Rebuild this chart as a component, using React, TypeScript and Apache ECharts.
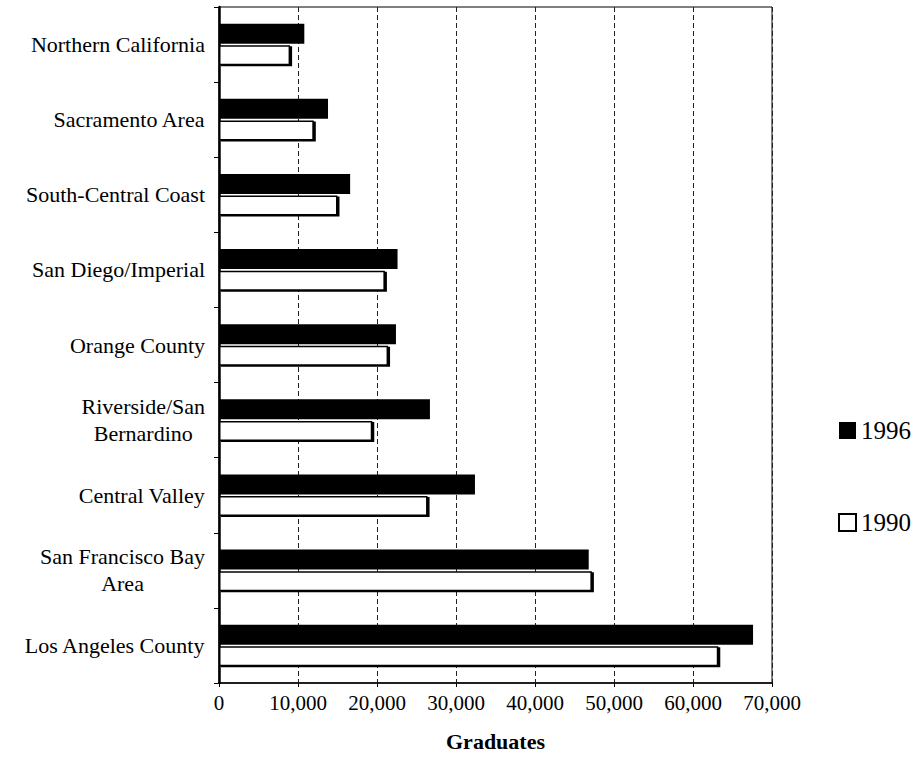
import React, { useEffect, useRef } from "react";
import * as echarts from "echarts";

const categories = [
  "Northern California",
  "Sacramento Area",
  "South-Central Coast",
  "San Diego/Imperial",
  "Orange County",
  "Riverside/San Bernardino",
  "Central Valley",
  "San Francisco Bay Area",
  "Los Angeles County",
];
const categoryLabels = [
  "Northern California",
  "Sacramento Area",
  "South-Central Coast",
  "San Diego/Imperial",
  "Orange County",
  "Riverside/San\nBernardino",
  "Central Valley",
  "San Francisco Bay\nArea",
  "Los Angeles County",
];
const grads1996 = [10800, 13800, 16600, 22600, 22400, 26700, 32400, 46800, 67600];
const grads1990 = [9000, 12000, 15000, 21000, 21400, 19400, 26400, 47200, 63200];
const xTicks = { min: 0, max: 70000, interval: 10000 };
const axisTitle = "Graduates";

const FONT = "'Liberation Serif', 'Times New Roman', serif";

export default function App() {
  const ref = useRef<HTMLDivElement>(null);
  useEffect(() => {
    document.body.style.margin = "0";
    const chart = echarts.init(ref.current!, null, { renderer: "svg" });
    chart.setOption({
      animation: false,
      backgroundColor: "#fff",
      textStyle: { fontFamily: FONT, color: "#000" },
      grid: {
        left: 219,
        top: 7,
        width: 553,
        height: 676,
        show: true,
        borderColor: "#000",
        borderWidth: 1,
        backgroundColor: "transparent",
      },
      legend: {
        orient: "vertical",
        left: 833,
        top: 413,
        itemGap: 67,
        itemWidth: 17,
        itemHeight: 17,
        icon: "rect",
        data: ["1996", "1990"],
        textStyle: { fontFamily: FONT, fontSize: 25, color: "#000" },
      },
      xAxis: {
        type: "value",
        min: xTicks.min,
        max: xTicks.max,
        interval: xTicks.interval,
        name: axisTitle,
        nameLocation: "middle",
        nameGap: 47,
        nameTextStyle: { fontFamily: FONT, fontSize: 22, fontWeight: "bold", color: "#000" },
        axisLine: { show: true, lineStyle: { color: "#000", width: 1.5 } },
        axisTick: { show: true, length: 4, lineStyle: { color: "#000" } },
        axisLabel: {
          margin: 9,
          fontFamily: FONT,
          fontSize: 21,
          color: "#000",
          formatter: (v: number) => v.toLocaleString("en-US"),
        },
        splitLine: { show: true, lineStyle: { color: "#222", type: [5, 3], width: 1 } },
      },
      yAxis: {
        type: "category",
        data: categories,
        inverse: true,
        axisLine: { show: true, lineStyle: { color: "#000", width: 2.5 } },
        axisTick: { show: true, length: 5, lineStyle: { color: "#000" } },
        axisLabel: {
          margin: 14,
          fontFamily: FONT,
          fontSize: 22,
          color: "#000",
          lineHeight: 27,
          formatter: (v: string) => {
            const lbl = categoryLabels[categories.indexOf(v)] || v;
            return lbl
              .split("\n")
              .map((s) => "{c|" + s + "}")
              .join("\n");
          },
          rich: {
            c: { align: "center", fontFamily: FONT, fontSize: 22, color: "#000", lineHeight: 27 },
          },
        },
        splitLine: { show: false },
      },
      series: [
        {
          name: "1996",
          type: "bar",
          data: grads1996,
          barWidth: 20,
          barGap: "8%",
          itemStyle: { color: "#000" },
        },
        {
          name: "1990",
          type: "bar",
          data: grads1990,
          barWidth: 20,
          itemStyle: {
            color: "#fff",
            borderColor: "#000",
            borderWidth: 1.5,
            shadowColor: "#000",
            shadowOffsetX: 2,
            shadowOffsetY: 1,
            shadowBlur: 0,
          },
        },
      ],
    });
    return () => chart.dispose();
  }, []);
  return <div ref={ref} style={{ width: 913, height: 776 }} />;
}
